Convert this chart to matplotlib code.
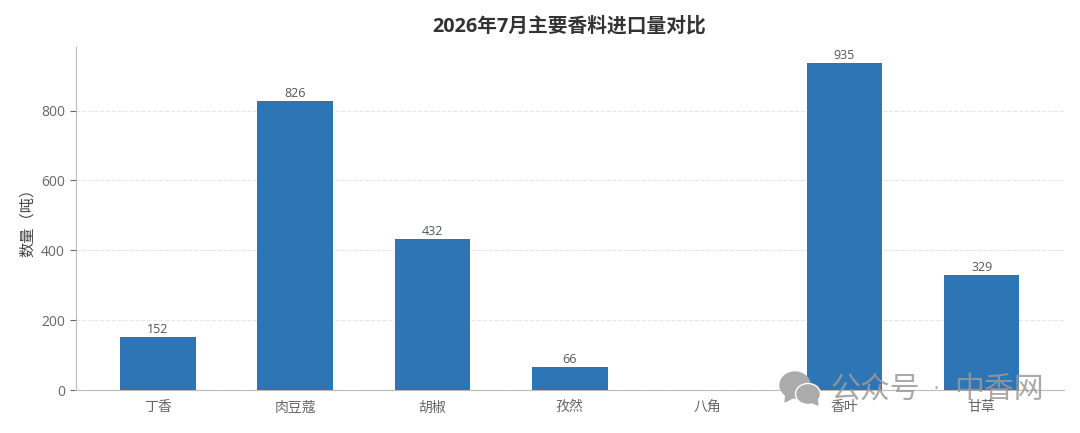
import matplotlib
matplotlib.use("Agg")
import matplotlib.pyplot as plt
from matplotlib.patches import Ellipse, Polygon

plt.rcParams['font.family'] = ['Open Sans', 'Noto Sans CJK SC', 'DejaVu Sans']

# data
spices = ['丁香', '肉豆蔻', '胡椒', '孜然', '八角', '香叶', '甘草']
tons = [152, 826, 432, 66, 0, 935, 329]
y_ticks = [0, 200, 400, 600, 800]

W, H = 1080, 433
fig = plt.figure(figsize=(W / 100, H / 100), dpi=100, facecolor='white')
ax = fig.add_axes([75.5 / W, 1 - 390 / H, (1064 - 75.5) / W, (390 - 47) / H])

bars = ax.bar(range(len(spices)), tons, width=0.55, color='#2E75B6', zorder=3)
for bar, v in zip(bars, tons):
    if v > 0:
        ax.text(bar.get_x() + bar.get_width() / 2, v + 3, str(v), ha='center', va='bottom',
                fontsize=9, color='#555555', zorder=4)

ax.set_xlim(-0.6, 6.6)
ax.set_ylim(0, 982)
ax.set_xticks(range(len(spices)))
ax.set_xticklabels(spices)
ax.set_yticks(y_ticks)
ax.tick_params(axis='both', colors='#666666', labelsize=10, length=4, width=0.8)
ax.tick_params(axis='x', length=0, pad=7.5)
ax.grid(axis='y', linestyle='--', color='#E6E6E6', linewidth=0.8, zorder=0)
ax.set_axisbelow(True)
ax.spines['top'].set_visible(False)
ax.spines['right'].set_visible(False)
ax.spines['left'].set_color('#BBBBBB')
ax.spines['bottom'].set_color('#BBBBBB')
ax.set_ylabel('数量（吨）', fontsize=11, color='#444444', labelpad=4)

fig.text(569.5 / W, 1 - 26 / H, '2026年7月主要香料进口量对比', ha='center', va='center',
         fontsize=14.2, fontweight='bold', color='#333333')

# watermark, pixel coordinates with the origin at the top left
def px(x, y):
    return (x / W, 1 - y / H)

grey = '#9A9A9A'
fig.add_artist(Ellipse(px(795, 385), 30 / W, 26 / H, transform=fig.transFigure, color='#ABABAB', zorder=5))
fig.add_artist(Polygon([px(786, 394), px(785, 402), px(796, 396)], transform=fig.transFigure, color='#ABABAB', zorder=5))
fig.add_artist(Ellipse(px(808, 394), 25 / W, 21 / H, transform=fig.transFigure, fc='#ABABAB', ec='white', lw=1, zorder=6))
fig.add_artist(Polygon([px(811, 402), px(818, 405), px(817, 399)], transform=fig.transFigure, color='#ABABAB', zorder=6))
for label, x in [('公众号', 875), ('·', 936), ('中香网', 999)]:
    fig.text(x / W, 1 - 390 / H, label, ha='center', va='center', fontsize=21.5,
             color=grey, alpha=0.85, fontweight='light', zorder=7)

fig.savefig('out.png', dpi=100)
